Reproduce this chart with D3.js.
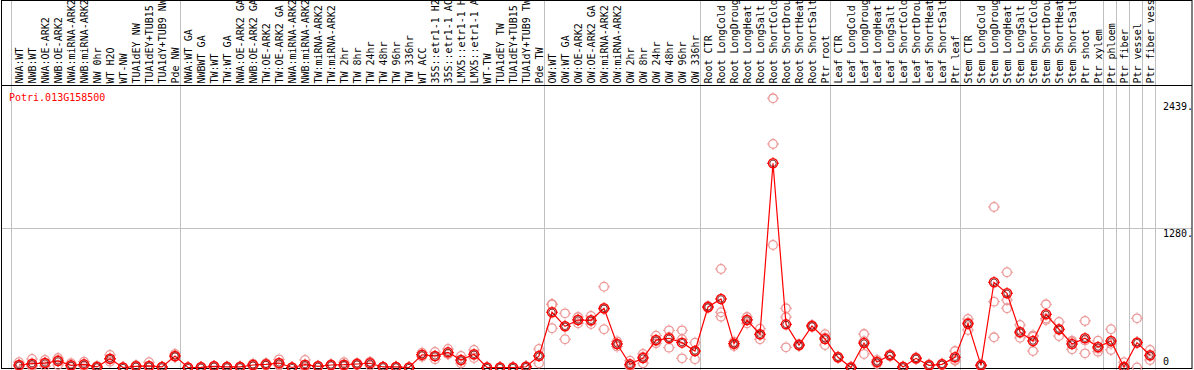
<!DOCTYPE html>
<html>
<head>
<meta charset="utf-8">
<script src="https://cdn.jsdelivr.net/npm/d3@7"></script>
<style>
  body { margin: 0; background: #fff; }
  svg text { font-family: "DejaVu Sans Mono", monospace; font-size: 10px; }
</style>
</head>
<body>
<svg class="expr-chart"></svg>
<script>
const chartWidth = 1194;
const chartHeight = 370;
const plotLeft = 11;
const colWidth = 13;
const headerBottom = 85;

const geneName = 'Potri.013G158500';

// sample labels, left to right
const samples = [
    'NWA:WT', 'NWB:WT', 'NWA:OE-ARK2', 'NWB:OE-ARK2', 'NWA:miRNA-ARK2', 'NWB:miRNA-ARK2',
    'NW 0hr', 'WT H2O', 'WT-NW', 'TUA1dEY NW', 'TUA1dEY+TUB15 NW', 'TUA1dY+TUB9 NW', 'Pde NW',
    'NWA:WT GA', 'NWBWT GA', 'TW:WT', 'TW:WT GA', 'NWA:OE-ARK2 GA', 'NWB:OE-ARK2 GA',
    'TW:OE-ARK2', 'TW:OE-ARK2 GA', 'NWA:miRNA-ARK2 GA', 'NWB:miRNA-ARK2 GA', 'TW:miRNA-ARK2',
    'TW:miRNA-ARK2 GA', 'TW 2hr', 'TW 8hr', 'TW 24hr', 'TW 48hr', 'TW 96hr', 'TW 336hr',
    'WT ACC', '35S::etr1-1 H2O', '35S::etr1-1 ACC', 'LMX5::etr1-1 H2O', 'LMX5::etr1-1 ACC',
    'WT-TW', 'TUA1dEY TW', 'TUA1dEY+TUB15 TW', 'TUA1dY+TUB9 TW', 'Pde TW',
    'OW:WT', 'OW:WT GA', 'OW:OE-ARK2', 'OW:OE-ARK2 GA', 'OW:miRNA-ARK2', 'OW:miRNA-ARK2 GA',
    'OW 2hr', 'OW 8hr', 'OW 24hr', 'OW 48hr', 'OW 96hr', 'OW 336hr',
    'Root CTR', 'Root LongCold', 'Root LongDrought', 'Root LongHeat', 'Root LongSalt',
    'Root ShortCold', 'Root ShortDrought', 'Root ShortHeat', 'Root ShortSalt', 'Ptr root',
    'Leaf CTR', 'Leaf LongCold', 'Leaf LongDrought', 'Leaf LongHeat', 'Leaf LongSalt',
    'Leaf ShortCold', 'Leaf ShortDrought', 'Leaf ShortHeat', 'Leaf ShortSalt', 'Ptr leaf',
    'Stem CTR', 'Stem LongCold', 'Stem LongDrought', 'Stem LongHeat', 'Stem LongSalt',
    'Stem ShortCold', 'Stem ShortDrought', 'Stem ShortHeat', 'Stem ShortSalt', 'Ptr shoot',
    'Ptr xylem', 'Ptr phloem', 'Ptr fiber', 'Ptr vessel', 'Ptr fiber vessel'
];

// number of samples in each experiment block (grey separators between them)
const groupSizes = [13, 28, 12, 10, 10, 11, 1, 1, 1, 1];

// mean expression per sample
const means = [
    23, 35, 41, 60, 20, 29, 5, 81, 0, 11, 14, 5, 106,
    0, 2, 11, 5, 5, 23, 29, 41, 0, 26, 11, 23, 26, 32, 39, 5, 5, 0,
    117, 106, 139, 69, 121, 0, 0, 0, 7, 106,
    507, 378, 436, 433, 543, 216, 29, 87, 252, 268, 228, 151,
    555, 629, 218, 436, 305, 1874, 396, 206, 381, 262,
    94, 0, 224, 50, 112, 5, 84, 20, 29, 94,
    401, 20, 782, 681, 326, 243, 488, 351, 216, 268, 188,
    243, 5, 228, 112
];

// individual replicates per sample
const replicates = [
    [48, 14, 8], [78, 20, 7], [69, 41, 13], [87, 70, 23], [39, 16, 5], [53, 23, 11],
    [15, 0, 0], [115, 75, 53], [0, 0, 0], [20, 8, 5], [48, 0, 0], [5, 5, 5], [124, 98, 96],
    [0, 0, 0], [5, 0, 0], [15, 11, 7], [9, 5, 0], [10, 5, 0], [35, 23, 11], [40, 29, 18],
    [75, 30, 18], [0, 0, 0], [69, 9, 0], [16, 11, 6], [30, 23, 16], [48, 20, 10], [42, 32, 22],
    [50, 50, 17], [5, 5, 5], [8, 5, 2], [0, 0, 0], [136, 117, 99], [142, 101, 75],
    [170, 124, 123], [106, 62, 39], [161, 115, 87], [0, 0, 0], [0, 0, 0], [0, 0, 0],
    [12, 7, 2], [170, 109, 39],
    [580, 580, 360], [497, 378, 259], [463, 439, 406], [473, 427, 399], [741, 537, 351],
    [240, 216, 192], [62, 18, 7], [124, 98, 39], [292, 242, 222], [341, 281, 182],
    [341, 259, 84], [228, 150, 75],
    [564, 555, 546], [904, 507, 466], [237, 220, 197], [463, 439, 406], [356, 300, 259],
    [2470, 2051, 1124], [543, 463, 185], [215, 206, 197], [390, 381, 372], [305, 275, 206],
    [100, 94, 88], [5, 0, 0], [307, 241, 124], [69, 50, 31], [120, 112, 104], [10, 5, 0],
    [92, 84, 76], [28, 20, 12], [36, 29, 22], [151, 70, 61],
    [445, 414, 344], [28, 20, 12], [1473, 604, 277], [874, 619, 543], [390, 315, 273],
    [283, 295, 151], [580, 449, 436], [418, 346, 289], [246, 235, 167], [427, 247, 130],
    [246, 173, 145], [351, 217, 161], [48, 0, 0], [451, 233, 0], [161, 106, 69]
];

const yTicks = [0, 1280, 2439];
const yTickLabels = ['0', '1280.', '2439.'];

const svg = d3.select('svg.expr-chart')
    .attr('width', chartWidth)
    .attr('height', chartHeight);

const x = d3.scaleBand()
    .domain(d3.range(samples.length))
    .range([plotLeft, plotLeft + colWidth * samples.length]);

const y = d3.scaleLinear()
    .domain([0, 1280])
    .range([367.5, 228]);

const cx = i => x(i) + 8;

// grid line at the middle tick
svg.append('line')
    .attr('x1', 1).attr('x2', 1192)
    .attr('y1', y(yTicks[1]) + 0.5).attr('y2', y(yTicks[1]) + 0.5)
    .attr('stroke', '#c0c0c0');

// grey separators between experiment blocks
let bounds = [0];
groupSizes.forEach(n => bounds.push(bounds[bounds.length - 1] + n));
svg.selectAll('line.sep')
    .data(bounds)
    .join('line')
    .attr('class', 'sep')
    .attr('x1', d => (d < samples.length ? x(d) : x(samples.length - 1) + colWidth) + 0.5)
    .attr('x2', d => (d < samples.length ? x(d) : x(samples.length - 1) + colWidth) + 0.5)
    .attr('y1', 0).attr('y2', chartHeight)
    .attr('stroke', '#c0c0c0');

// rotated sample names
svg.selectAll('text.sample')
    .data(samples)
    .join('text')
    .attr('class', 'sample')
    .attr('transform', (d, i) => `translate(${x(i) + 11.5},83.5)rotate(-90)`)
    .text(d => d);

// frame and header rule
svg.append('rect')
    .attr('x', 1.5).attr('y', 0.5)
    .attr('width', 1190.5).attr('height', 368)
    .attr('fill', 'none')
    .attr('stroke', '#000');
svg.append('line')
    .attr('x1', 1).attr('x2', 1192)
    .attr('y1', headerBottom + 0.5).attr('y2', headerBottom + 0.5)
    .attr('stroke', '#000');

svg.append('text')
    .attr('x', 9).attr('y', 101)
    .attr('fill', '#f00')
    .text(geneName);

// y axis labels on the right
svg.selectAll('text.ytick')
    .data(yTicks)
    .join('text')
    .attr('class', 'ytick')
    .attr('x', 1163)
    .attr('y', d => Math.min(y(d) + 8.5, 365))
    .text((d, i) => yTickLabels[i]);

const marker = 'M0,-6V-5M0,5V6M-6,0H-5M5,0H6';

// replicates
const repPts = replicates.flatMap((r, i) => r.map(v => ({ i, v })));
const repG = svg.selectAll('g.rep')
    .data(repPts)
    .join('g')
    .attr('class', 'rep')
    .attr('transform', d => `translate(${cx(d.i)},${y(d.v)})`);
repG.append('circle').attr('r', 4.3)
    .attr('fill', 'none').attr('stroke', '#ec9696').attr('stroke-width', 1.3);
repG.append('path').attr('d', marker)
    .attr('stroke', '#ec9696').attr('stroke-width', 1);

// mean line
svg.append('path')
    .datum(means)
    .attr('fill', 'none')
    .attr('stroke', '#f00')
    .attr('stroke-width', 1.2)
    .attr('d', d3.line().x((d, i) => cx(i)).y(d => y(d)));

const meanG = svg.selectAll('g.mean')
    .data(means)
    .join('g')
    .attr('class', 'mean')
    .attr('transform', (d, i) => `translate(${cx(i)},${y(d)})`);
meanG.append('circle').attr('r', 4.5)
    .attr('fill', 'none').attr('stroke', '#f00').attr('stroke-width', 1.5);
meanG.append('circle').attr('r', 3.2)
    .attr('fill', 'none').attr('stroke', '#600').attr('stroke-width', 0.8);
meanG.append('path').attr('d', marker)
    .attr('stroke', '#f00').attr('stroke-width', 1);
</script>
</body>
</html>
